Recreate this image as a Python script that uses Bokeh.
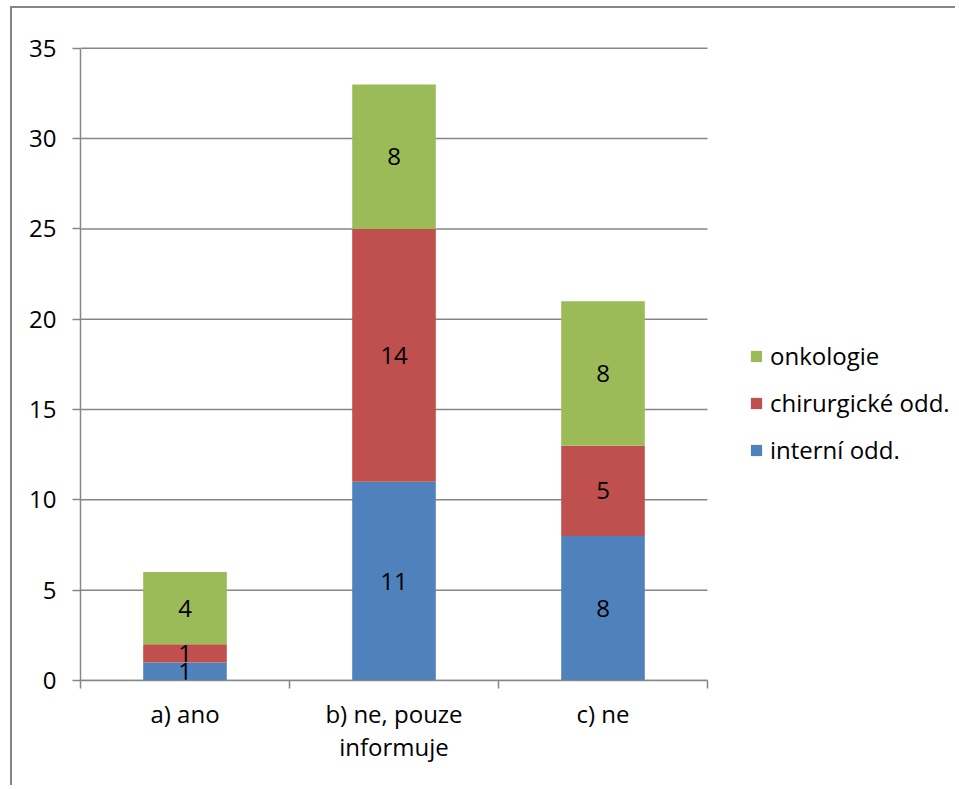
from bokeh.plotting import figure
from bokeh.models import ColumnDataSource, FixedTicker, Legend, LegendItem, Range1d
from bokeh.core.properties import value
from bokeh.embed import file_html
from bokeh.resources import INLINE

categories = ["a) ano", "b) ne, pouze\ninformuje", "c) ne"]
interni = [1, 11, 8]
chirurgicke = [1, 14, 5]
onkologie = [4, 8, 8]
series_names = ["interní odd.", "chirurgické odd.", "onkologie"]
colors = ["#4F81BD", "#C0504D", "#9BBB59"]
y_ticks = [0, 5, 10, 15, 20, 25, 30, 35]

FONT = "Open Sans"
FS = "24px"
GRAY = "#868686"

W, H = 945, 779
ML, MR, MT, MB = 68, 0, 38, 107
plot_w = 627                    # width of the category area in px
frame_w = W - ML - MR
n = len(categories)
x_end = n * frame_w / plot_w    # extra room on the right for the legend
y_max = y_ticks[-1]

xs = [i + 0.5 for i in range(n)]
src = ColumnDataSource(dict(x=xs, s0=interni, s1=chirurgicke, s2=onkologie))

p = figure(width=W, height=H, output_backend="svg", toolbar_location=None,
           x_range=Range1d(0, x_end), y_range=Range1d(0, y_max + 0.1),
           min_border_left=ML, min_border_top=MT, min_border_right=MR,
           min_border_bottom=MB)
p.styles = {"border-left": "2px solid " + GRAY, "border-top": "2px solid " + GRAY,
            "margin-left": "10px", "margin-top": "6px"}
p.outline_line_color = None
p.background_fill_color = "white"

# horizontal gridlines over the category area only
p.segment(x0=[0] * len(y_ticks), x1=[n] * len(y_ticks), y0=y_ticks, y1=y_ticks,
          line_color=GRAY, line_width=1.5)

rs = p.vbar_stack(["s0", "s1", "s2"], x="x", width=0.4, source=src,
                  color=colors, line_color=None)

# value labels
lx, ly, lt = [], [], []
for i in range(n):
    bottom = 0
    for ser in (interni, chirurgicke, onkologie):
        v = ser[i]
        lx.append(xs[i]); ly.append(bottom + v / 2); lt.append(str(v))
        bottom += v
p.text(x=lx, y=ly, text=lt, text_align="center", text_baseline="middle",
       text_font=value(FONT), text_font_size=FS, text_color="#000000")

# axes
p.yaxis.ticker = FixedTicker(ticks=y_ticks)
p.yaxis.bounds = (0, y_max)
p.yaxis.axis_line_color = GRAY
p.yaxis.axis_line_width = 1.5
p.yaxis.major_tick_line_color = GRAY
p.yaxis.major_tick_line_width = 1.5
p.yaxis.major_tick_out = 8
p.yaxis.major_tick_in = 0
p.yaxis.minor_tick_line_color = None
p.yaxis.major_label_standoff = 16
p.yaxis.major_label_text_font = FONT
p.yaxis.major_label_text_font_size = FS
p.yaxis.major_label_text_color = "#000000"

p.xaxis.ticker = FixedTicker(ticks=xs, minor_ticks=list(range(n + 1)))
p.xaxis.bounds = (0, n)
p.xaxis.major_label_overrides = {x: c for x, c in zip(xs, categories)}
p.xaxis.axis_line_color = GRAY
p.xaxis.axis_line_width = 1.5
p.xaxis.major_tick_line_color = None
p.xaxis.major_tick_out = 0
p.xaxis.major_tick_in = 0
p.xaxis.minor_tick_line_color = GRAY
p.xaxis.minor_tick_line_width = 1.5
p.xaxis.minor_tick_out = 8
p.xaxis.minor_tick_in = 0
p.xaxis.major_label_standoff = 8
p.xaxis.major_label_text_font = FONT
p.xaxis.major_label_text_font_size = FS
p.xaxis.major_label_text_line_height = 1.0
p.xaxis.major_label_text_color = "#000000"

p.xgrid.grid_line_color = None
p.ygrid.grid_line_color = None

legend = Legend(items=[LegendItem(label=series_names[2], renderers=[rs[2]]),
                       LegendItem(label=series_names[1], renderers=[rs[1]]),
                       LegendItem(label=series_names[0], renderers=[rs[0]])],
                location=(669, 214), padding=0, margin=0, spacing=14,
                label_height=28, glyph_height=14, glyph_width=14, label_standoff=7,
                label_text_font=FONT, label_text_font_size=FS,
                label_text_color="#000000", border_line_color=None,
                background_fill_alpha=0)
p.add_layout(legend, "center")

open("out.html", "w").write(file_html(p, INLINE))
